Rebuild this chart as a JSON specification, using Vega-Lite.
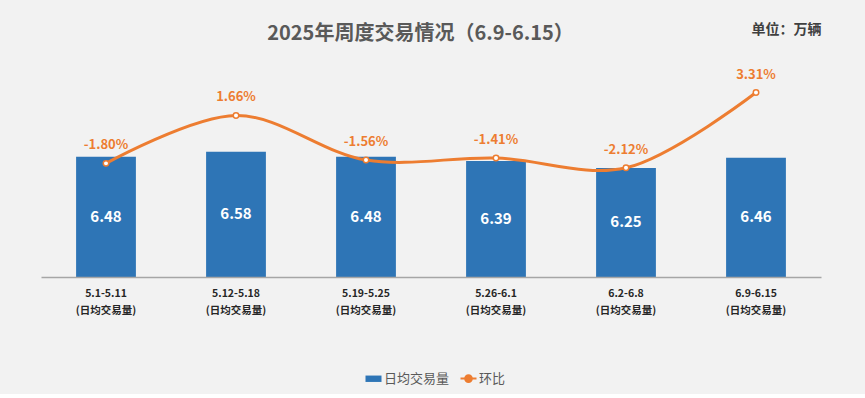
{
  "$schema": "https://vega.github.io/schema/vega-lite/v6.json",
  "width": 780,
  "height": 194,
  "padding": {"left": 41, "top": 22, "right": 44, "bottom": 8},
  "background": "#f2f2f2",
  "config": {
    "view": {"stroke": null},
    "font": "Noto Sans CJK SC",
    "locale": {"number": {"decimal": ".", "thousands": ",", "grouping": [3], "currency": ["", ""], "minus": "-"}}
  },
  "data": {
    "values": [
      {"week": "5.1-5.11", "volume": 6.48, "mom": -0.018},
      {"week": "5.12-5.18", "volume": 6.58, "mom": 0.0166},
      {"week": "5.19-5.25", "volume": 6.48, "mom": -0.0156},
      {"week": "5.26-6.1", "volume": 6.39, "mom": -0.0141},
      {"week": "6.2-6.8", "volume": 6.25, "mom": -0.0212},
      {"week": "6.9-6.15", "volume": 6.46, "mom": 0.0331}
    ]
  },
  "resolve": {"scale": {"y": "independent"}, "axis": {"y": "independent"}},
  "layer": [
    {
      "mark": {"type": "bar", "color": "#2e75b6"},
      "encoding": {
        "x": {
          "field": "week", "type": "nominal", "sort": null,
          "scale": {"paddingInner": 0.54, "paddingOuter": 0.27},
          "axis": {
            "title": null, "labelAngle": 0,
            "labelExpr": "[datum.label, '(日均交易量)']",
            "labelFontSize": 10.5, "labelFontWeight": "bold", "labelColor": "#262626",
            "labelLineHeight": 17, "labelPadding": 11, "labelBaseline": "top",
            "ticks": false, "domainColor": "#a6a6a6", "domainWidth": 1.5, "zindex": 1
          }
        },
        "y": {
          "field": "volume", "type": "quantitative",
          "scale": {"domain": [4, 8], "zero": false, "nice": false},
          "axis": {
            "orient": "right", "labels": false, "ticks": false, "domain": false, "grid": false,
            "title": "单位：万辆", "titleAngle": 0, "titleX": 0, "titleY": -54,
            "titleAlign": "right", "titleBaseline": "middle",
            "titleFontSize": 14, "titleFontWeight": "bold", "titleColor": "#404040"
          }
        },
        "y2": {"datum": 4},
        "color": {
          "datum": "日均交易量",
          "scale": {"domain": ["日均交易量", "环比"], "range": ["#2e75b6", "#ed7d31"]},
          "legend": {
            "orient": "none", "legendX": 326, "legendY": 289, "title": null, "direction": "horizontal",
            "labelFontSize": 13, "labelColor": "#595959", "symbolSize": 256,
            "columnPadding": 6, "labelOffset": 4,
            "encode": {
              "symbols": {
                "update": {
                  "shape": {"signal": "datum.value === '环比' ? 'M-1,0H-0.42M0.42,0H1M0.42,0A0.42,0.42,0,1,1,-0.42,0A0.42,0.42,0,1,1,0.42,0Z' : 'M-1,-0.4H1V0.4H-1Z'"},
                  "fill": {"signal": "datum.value === '环比' ? '#ffffff' : '#2e75b6'"},
                  "stroke": {"signal": "datum.value === '环比' ? '#ed7d31' : '#2e75b6'"},
                  "strokeWidth": {"signal": "datum.value === '环比' ? 2 : 0"},
                  "opacity": {"value": 1}, "fillOpacity": {"value": 1}, "strokeOpacity": {"value": 1}
                }
              }
            }
          }
        }
      }
    },
    {
      "mark": {"type": "text", "color": "white", "fontWeight": "bold", "fontSize": 15, "baseline": "middle"},
      "encoding": {
        "x": {"field": "week", "type": "nominal", "sort": null},
        "y": {"field": "volume", "type": "quantitative", "scale": {"domain": [4, 12], "zero": false, "nice": false}, "axis": null},
        "text": {"field": "volume", "type": "quantitative", "format": ".2f"}
      }
    },
    {
      "mark": {"type": "line", "interpolate": "catmull-rom", "strokeWidth": 3},
      "encoding": {
        "x": {"field": "week", "type": "nominal", "sort": null},
        "y": {
          "field": "mom", "type": "quantitative",
          "scale": {"domain": [-0.1, 0.04], "zero": false, "nice": false},
          "axis": {
            "orient": "left", "labels": false, "ticks": false, "domain": false, "grid": false,
            "title": "2025年周度交易情况（6.9-6.15）", "titleAngle": 0, "titleX": 379, "titleY": -50,
            "titleAlign": "center", "titleBaseline": "middle",
            "titleFontSize": 20, "titleFontWeight": "bold", "titleColor": "#595959"
          }
        },
        "color": {"datum": "环比"}
      }
    },
    {
      "mark": {"type": "point", "filled": true, "fill": "white", "stroke": "#ed7d31", "strokeWidth": 1.5, "size": 30, "opacity": 1},
      "encoding": {
        "x": {"field": "week", "type": "nominal", "sort": null},
        "y": {"field": "mom", "type": "quantitative", "scale": {"domain": [-0.1, 0.04], "zero": false, "nice": false}, "axis": null}
      }
    },
    {
      "mark": {"type": "text", "color": "#ed7d31", "fontWeight": "bold", "fontSize": 13, "dy": -18, "baseline": "middle"},
      "encoding": {
        "x": {"field": "week", "type": "nominal", "sort": null},
        "y": {"field": "mom", "type": "quantitative", "scale": {"domain": [-0.1, 0.04], "zero": false, "nice": false}, "axis": null},
        "text": {"field": "mom", "type": "quantitative", "format": ".2%"}
      }
    }
  ]
}
